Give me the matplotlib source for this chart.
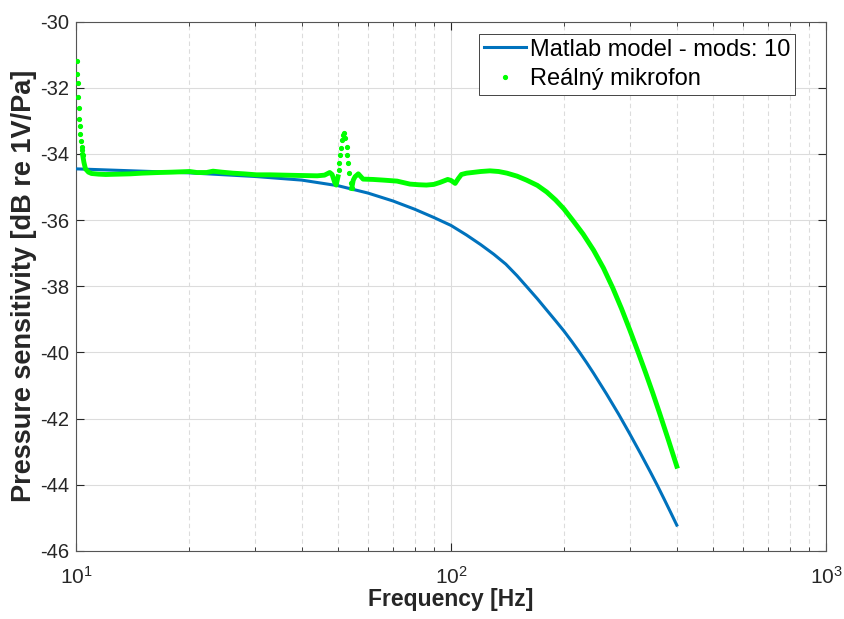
import matplotlib.pyplot as plt
from matplotlib.lines import Line2D
import numpy as np

plt.rcParams['font.family'] = ['Liberation Sans', 'DejaVu Sans']
plt.rcParams['mathtext.default'] = 'regular'

# model curve
model_f = [10, 15, 20, 30, 40, 50, 60, 70, 80, 90, 100, 110, 120, 130, 140, 150, 160,
           170, 180, 190, 200, 210, 220, 230, 240, 260, 280, 300, 320, 340, 355, 370,
           385, 400]
model_db = [-34.45, -34.52, -34.57, -34.68, -34.79, -34.96, -35.18, -35.42, -35.67,
            -35.92, -36.16, -36.45, -36.74, -37.03, -37.33, -37.68, -38.04, -38.38,
            -38.72, -39.04, -39.35, -39.67, -39.99, -40.31, -40.63, -41.26, -41.87,
            -42.47, -43.05, -43.61, -44.02, -44.43, -44.83, -45.22]

# measured microphone
mic_f = [10.04, 10.08, 10.10, 10.14, 10.19, 10.20, 10.25, 10.27, 10.31, 10.36, 10.37,
         10.42, 10.50, 10.60, 10.80, 11.0, 11.5, 12, 13, 14, 15, 16.7, 18, 20.1, 21,
         22.3, 23.2, 24.5, 26.2, 28, 30.3, 33, 36, 39.6, 44, 46, 47.5, 48.2, 48.9,
         49.4, 49.97, 50.2, 50.4, 50.58, 50.8, 51.1, 51.43, 51.84, 52.25, 52.7, 52.9,
         53.22, 53.55, 54.0, 54.35, 54.88, 55.46, 56.6, 58.3, 62, 66, 71.8, 77.7, 82,
         86, 90, 93.5, 98, 100, 102.6, 104.5, 106.6, 110, 114, 120, 127, 134, 141, 150,
         159, 170, 180, 190, 200, 212, 225, 240, 255, 270, 285, 300, 315, 330, 345, 360,
         380, 400]
mic_db = [-31.18, -31.59, -31.86, -32.27, -32.62, -32.95, -33.15, -33.39, -33.60, -33.78,
          -33.88, -34.03, -34.25, -34.45, -34.55, -34.59, -34.61, -34.62, -34.61, -34.60,
          -34.58, -34.56, -34.55, -34.53, -34.56, -34.56, -34.52, -34.55, -34.58, -34.60,
          -34.63, -34.63, -34.64, -34.65, -34.66, -34.64, -34.56, -34.62, -34.84, -34.94,
          -34.69, -34.48, -34.26, -34.03, -33.83, -33.58, -33.42, -33.38, -33.53, -33.78,
          -34.03, -34.28, -34.58, -34.89, -35.04, -34.79, -34.69, -34.60, -34.76, -34.77,
          -34.79, -34.82, -34.91, -34.93, -34.94, -34.92, -34.86, -34.77, -34.80, -34.89,
          -34.75, -34.62, -34.58, -34.56, -34.53, -34.51, -34.53, -34.58, -34.67, -34.79,
          -34.95, -35.15, -35.39, -35.66, -36.03, -36.42, -36.91, -37.45, -38.05, -38.68,
          -39.33, -39.97, -40.60, -41.22, -41.84, -42.65, -43.44]

x_ticks = [10, 100, 1000]
x_ticklabels = ['$10^{1}$', '$10^{2}$', '$10^{3}$']

blue = '#0072BD'
green = '#00FF00'
ink = '#262626'

fig = plt.figure(figsize=(8.44, 6.19), dpi=100)
ax = fig.add_axes([0.090, 0.110, 0.8887, 0.855])

ax.plot(model_f, model_db, color=blue, lw=2.2, zorder=3)

mf = np.array(mic_f)
md = np.array(mic_db)
# sparse dots where the measurement changes fast, thick trace elsewhere
dotted = (mf < 10.45) | ((mf > 50.0) & (mf < 54.4))
line_db = np.where(dotted & ~np.isin(mf, [10.42, 54.35]), np.nan, md)
ax.plot(mf, line_db, color=green, lw=3.5, zorder=4)
ax.plot(mf[dotted], md[dotted], '.', color=green, ms=5.5, zorder=4)

ax.set_xscale('log')
ax.set_xlim(10, 1000)
ax.set_ylim(-46, -30)
ax.set_xticks(x_ticks)
ax.set_xticklabels(x_ticklabels)
ax.set_yticks(np.arange(-46, -29, 2))
ax.set_yticklabels([str(v) for v in range(-46, -29, 2)])

ax.grid(True, which='major', color='#dcdcdc', lw=0.8, ls='-')
ax.grid(True, which='minor', axis='x', color='#dcdcdc', lw=0.8, ls=(0, (4, 3)))
ax.set_axisbelow(True)

ax.tick_params(which='both', direction='in', top=True, right=True, colors=ink)
ax.tick_params(axis='y', labelsize=14.5, pad=5)
ax.tick_params(axis='x', which='major', labelsize=15, pad=11)
ax.tick_params(which='major', length=6)
ax.tick_params(which='minor', length=3)
for s in ax.spines.values():
    s.set_color('#555555')
    s.set_linewidth(0.8)

ax.set_xlabel('Frequency [Hz]', fontsize=16.5, fontweight='bold', color=ink, labelpad=0)
ax.set_ylabel('Pressure sensitivity [dB re 1V/Pa]', fontsize=19.5, fontweight='bold',
              color=ink, labelpad=2)

handles = [Line2D([], [], color=blue, lw=2.2),
           Line2D([], [], color=green, marker='.', ls='none', ms=5.5)]
leg = ax.legend(handles, ['Matlab model - mods: 10', 'Reálný mikrofon'],
                loc='upper right', bbox_to_anchor=(0.9587, 0.9767), borderaxespad=0,
                fontsize=17, fancybox=False, framealpha=1, edgecolor=ink,
                borderpad=0.2, labelspacing=0.3, handlelength=1.8,
                handletextpad=0.15)
leg.get_frame().set_linewidth(0.6)

fig.savefig('out.png', dpi=100)
